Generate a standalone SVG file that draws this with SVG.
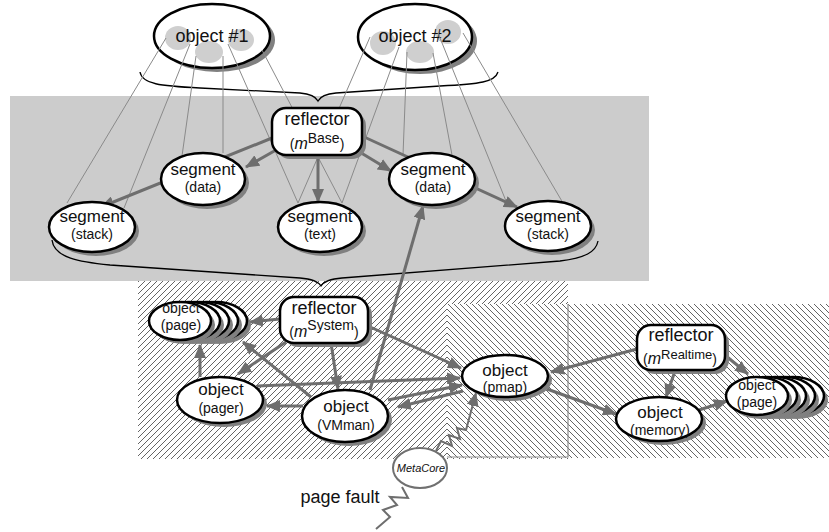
<svg xmlns="http://www.w3.org/2000/svg" width="829" height="532" viewBox="0 0 829 532">
<defs>
  <pattern id="hatch-fwd" width="6" height="6" patternUnits="userSpaceOnUse">
    <rect width="6" height="6" fill="#fff"/>
    <path d="M0,6 L6,0 M-1,1 L1,-1 M5,7 L7,5" stroke="#222" stroke-width="0.7"/>
  </pattern>
  <pattern id="hatch-back" width="6" height="6" patternUnits="userSpaceOnUse">
    <rect width="6" height="6" fill="#fff"/>
    <path d="M0,0 L6,6 M-1,5 L1,7 M5,-1 L7,1" stroke="#222" stroke-width="0.7"/>
  </pattern>
  <marker id="ah" markerWidth="14" markerHeight="12" refX="13" refY="6" orient="auto" markerUnits="userSpaceOnUse">
    <path d="M0,0 L14,6 L0,12 z" fill="#6e6e6e"/>
  </marker>
</defs>
<style>
  .node{fill:#fff;stroke:#000;stroke-width:2.5}
  .shadow{fill:#808080}
  .blob{fill:#cfcfcf}
  .t{font-family:"Liberation Sans",Arial,sans-serif;text-anchor:middle;fill:#111}
  .big{font-size:18px}
  .mid{font-size:17px}
  .sm{font-size:14px}
  .ln{stroke:#8a8a8a;stroke-width:1;fill:none}
  .arr{stroke:#6e6e6e;stroke-width:3;fill:none;marker-end:url(#ah)}
  .zig{stroke:#6e6e6e;stroke-width:2;fill:none}
  .brace{stroke:#000;stroke-width:1.3;fill:none}
</style>

<!-- layer backgrounds -->
<g id="areas">
  <rect x="10" y="96" width="639" height="185" fill="#cccccc"/>
  <rect x="138" y="281" width="430" height="178" fill="url(#hatch-fwd)"/>
  <rect x="447" y="304" width="382" height="154" fill="url(#hatch-back)"/>
  <path d="M568,304 L568,457 L447,457" stroke="#8a8a8a" stroke-width="1.2" fill="none"/>
</g>

<!-- braces -->
<g id="braces">
  <path class="brace" d="M140,72 C142,84 160,86 200,88 L300,93 C312,94 316,97 318,101 C320,97 324,94 336,93 L440,86 C480,84 495,82 498,72"/>
  <path class="brace" d="M52,240 C54,258 80,262 110,265 L300,278 C312,279 318,281 321,286 C324,281 330,279 342,278 L560,261 C585,258 596,252 598,241"/>
</g>

<!-- application objects -->
<g id="object1">
  <ellipse class="shadow" cx="217" cy="40" rx="58" ry="32"/>
  <ellipse class="node" cx="212" cy="36" rx="58" ry="32" stroke-width="3"/>
  <ellipse class="blob" cx="178" cy="38" rx="13" ry="12"/>
  <ellipse class="blob" cx="209" cy="52" rx="14" ry="11"/>
  <ellipse class="blob" cx="241" cy="40" rx="13" ry="11"/>
  <text class="t big" x="212" y="42">object #1</text>
</g>
<g id="object2">
  <ellipse class="shadow" cx="420" cy="41" rx="57" ry="33"/>
  <ellipse class="node" cx="415" cy="37" rx="57" ry="33" stroke-width="3"/>
  <ellipse class="blob" cx="383" cy="43" rx="13" ry="12"/>
  <ellipse class="blob" cx="420" cy="52" rx="14" ry="11"/>
  <ellipse class="blob" cx="448" cy="32" rx="13" ry="12"/>
  <text class="t big" x="415" y="42">object #2</text>
</g>

<g id="connectors">
  <!-- object-to-segment mappings -->
  <line class="ln" x1="166" y1="38" x2="67" y2="203"/>
  <line class="ln" x1="190" y1="44" x2="124" y2="208"/>
  <line class="ln" x1="196" y1="56" x2="182" y2="156"/>
  <line class="ln" x1="223" y1="56" x2="223" y2="153"/>
  <line class="ln" x1="228" y1="44" x2="298" y2="203"/>
  <line class="ln" x1="262" y1="50" x2="342" y2="203"/>
  <line class="ln" x1="370" y1="37" x2="298" y2="203"/>
  <line class="ln" x1="399" y1="47" x2="342" y2="203"/>
  <line class="ln" x1="407" y1="52" x2="403" y2="155"/>
  <line class="ln" x1="433" y1="53" x2="452" y2="155"/>
  <line class="ln" x1="438" y1="33" x2="508" y2="206"/>
  <line class="ln" x1="463" y1="33" x2="563" y2="203"/>

  <!-- mBase reflector -->
  <line class="arr" x1="272" y1="138" x2="101" y2="207"/>
  <line class="arr" x1="276" y1="150" x2="246" y2="167"/>
  <line class="arr" x1="318" y1="156" x2="318" y2="202"/>
  <line class="arr" x1="358" y1="151" x2="391" y2="171"/>
  <line class="arr" x1="362" y1="136" x2="517" y2="207"/>
  <line class="arr" x1="370" y1="390" x2="423" y2="206"/>

  <!-- mSystem reflector -->
  <line class="arr" x1="280" y1="319" x2="250" y2="322"/>
  <line class="arr" x1="286" y1="342" x2="238" y2="374"/>
  <line class="arr" x1="331" y1="343" x2="338" y2="389"/>
  <line class="arr" x1="368" y1="326" x2="461" y2="368"/>
  <line class="arr" x1="257" y1="386" x2="460" y2="378"/>
  <line class="arr" x1="388" y1="400" x2="462" y2="385"/>
  <line class="arr" x1="463" y1="391" x2="398" y2="407"/>
  <line class="arr" x1="303" y1="406" x2="267" y2="406"/>
  <line class="arr" x1="311" y1="397" x2="243" y2="342"/>
  <line class="arr" x1="200" y1="377" x2="200" y2="345"/>

  <!-- mRealtime reflector -->
  <line class="arr" x1="637" y1="349" x2="551" y2="372"/>
  <line class="arr" x1="675" y1="371" x2="666" y2="397"/>
  <line class="arr" x1="726" y1="356" x2="748" y2="374"/>
  <line class="arr" x1="699" y1="410" x2="727" y2="401"/>
  <line class="arr" x1="547" y1="389" x2="616" y2="414"/>

  <!-- MetaCore upcalls -->
  <path class="zig" d="M436,451 L441,441 L452,446 L449,435 L460,439 L457,428 L466,430 L476,393" marker-end="url(#ah)"/>
  <path class="zig" d="M376,529 L390,517 L383,510 L397,505 L390,497 L408,498 L402,487"/>
</g>

<!-- base-level segments -->
<g id="reflector-base">
  <rect class="shadow" x="276" y="112" width="90" height="47" rx="14"/>
  <rect class="node" x="272" y="108" width="90" height="47" rx="14"/>
  <text class="t big" x="317" y="125">reflector</text>
  <text class="t" x="317" y="149"><tspan font-size="14">(</tspan><tspan font-size="16" font-style="italic">m</tspan><tspan font-size="14" dy="-6">Base</tspan><tspan font-size="14" dy="6">)</tspan></text>
</g>
<g id="segment-data-1">
  <ellipse class="shadow" cx="207" cy="183" rx="42" ry="26"/>
  <ellipse class="node" cx="203" cy="179" rx="42" ry="26"/>
  <text class="t mid" x="203" y="175">segment</text>
  <text class="t sm" x="203" y="192">(data)</text>
</g>
<g id="segment-stack-1">
  <ellipse class="shadow" cx="96" cy="231" rx="43" ry="25"/>
  <ellipse class="node" cx="92" cy="227" rx="43" ry="25"/>
  <text class="t mid" x="92" y="222">segment</text>
  <text class="t sm" x="92" y="239">(stack)</text>
</g>
<g id="segment-text">
  <ellipse class="shadow" cx="324" cy="231" rx="42" ry="25"/>
  <ellipse class="node" cx="320" cy="227" rx="42" ry="25"/>
  <text class="t mid" x="320" y="222">segment</text>
  <text class="t sm" x="320" y="239">(text)</text>
</g>
<g id="segment-data-2">
  <ellipse class="shadow" cx="436" cy="183" rx="43" ry="26"/>
  <ellipse class="node" cx="432" cy="179" rx="43" ry="26"/>
  <text class="t mid" x="433" y="175">segment</text>
  <text class="t sm" x="433" y="192">(data)</text>
</g>
<g id="segment-stack-2">
  <ellipse class="shadow" cx="552" cy="230" rx="43" ry="25"/>
  <ellipse class="node" cx="548" cy="226" rx="43" ry="25"/>
  <text class="t mid" x="548" y="222">segment</text>
  <text class="t sm" x="548" y="239">(stack)</text>
</g>

<!-- system level -->
<g id="page-stack-1">
  <ellipse class="shadow" cx="220" cy="325" rx="31" ry="19"/>
  <ellipse class="node" cx="216" cy="321" rx="31" ry="19"/>
  <ellipse class="shadow" cx="211" cy="325" rx="31" ry="19"/>
  <ellipse class="node" cx="207" cy="321" rx="31" ry="19"/>
  <ellipse class="shadow" cx="202" cy="325" rx="31" ry="19"/>
  <ellipse class="node" cx="198" cy="321" rx="31" ry="19"/>
  <ellipse class="shadow" cx="193" cy="325" rx="31" ry="19"/>
  <ellipse class="node" cx="189" cy="321" rx="31" ry="19"/>
  <ellipse class="shadow" cx="184" cy="325" rx="31" ry="19"/>
  <ellipse class="node" cx="180" cy="321" rx="31" ry="19"/>
  <text class="t sm" x="181" y="313">object</text>
  <text class="t sm" x="181" y="330">(page)</text>
</g>
<g id="reflector-system">
  <rect class="shadow" x="284" y="301" width="88" height="46" rx="14"/>
  <rect class="node" x="280" y="297" width="88" height="46" rx="14"/>
  <text class="t big" x="324" y="314">reflector</text>
  <text class="t" x="324" y="337"><tspan font-size="14">(</tspan><tspan font-size="16" font-style="italic">m</tspan><tspan font-size="14" dy="-7">System</tspan><tspan font-size="14" dy="7">)</tspan></text>
</g>
<g id="pager">
  <ellipse class="shadow" cx="224" cy="404" rx="43" ry="23"/>
  <ellipse class="node" cx="220" cy="400" rx="43" ry="23"/>
  <text class="t mid" x="221" y="395">object</text>
  <text class="t sm" x="221" y="413">(pager)</text>
</g>
<g id="vmman">
  <ellipse class="shadow" cx="349" cy="420" rx="43" ry="26"/>
  <ellipse class="node" cx="345" cy="416" rx="43" ry="26"/>
  <text class="t mid" x="346" y="412">object</text>
  <text class="t sm" x="346" y="430">(VMman)</text>
</g>
<g id="pmap">
  <ellipse class="shadow" cx="509" cy="380" rx="43" ry="21"/>
  <ellipse class="node" cx="505" cy="376" rx="43" ry="21"/>
  <text class="t mid" x="505" y="376">object</text>
  <text class="t sm" x="505" y="392">(pmap)</text>
</g>
<g id="reflector-realtime">
  <rect class="shadow" x="641" y="329" width="88" height="45" rx="14"/>
  <rect class="node" x="637" y="325" width="88" height="45" rx="14"/>
  <text class="t big" x="681" y="341">reflector</text>
  <text class="t" x="680" y="364"><tspan font-size="14">(</tspan><tspan font-size="16" font-style="italic">m</tspan><tspan font-size="13" dy="-5">Realtime</tspan><tspan font-size="14" dy="5">)</tspan></text>
</g>
<g id="memory">
  <ellipse class="shadow" cx="663" cy="423" rx="43" ry="22"/>
  <ellipse class="node" cx="659" cy="419" rx="43" ry="22"/>
  <text class="t mid" x="660" y="418">object</text>
  <text class="t sm" x="660" y="435">(memory)</text>
</g>
<g id="page-stack-2">
  <ellipse class="shadow" cx="797" cy="400" rx="31" ry="19"/>
  <ellipse class="node" cx="793" cy="396" rx="31" ry="19"/>
  <ellipse class="shadow" cx="788" cy="400" rx="31" ry="19"/>
  <ellipse class="node" cx="784" cy="396" rx="31" ry="19"/>
  <ellipse class="shadow" cx="779" cy="400" rx="31" ry="19"/>
  <ellipse class="node" cx="775" cy="396" rx="31" ry="19"/>
  <ellipse class="shadow" cx="770" cy="400" rx="31" ry="19"/>
  <ellipse class="node" cx="766" cy="396" rx="31" ry="19"/>
  <ellipse class="shadow" cx="761" cy="400" rx="31" ry="19"/>
  <ellipse class="node" cx="757" cy="396" rx="31" ry="19"/>
  <text class="t sm" x="757" y="390">object</text>
  <text class="t sm" x="757" y="407">(page)</text>
</g>

<!-- metacore and the fault entry -->
<g id="metacore">
  <ellipse cx="420" cy="468" rx="27" ry="20" fill="#fff" stroke="#707070" stroke-width="2"/>
  <text class="t" x="421" y="472" font-size="11" font-style="italic">MetaCore</text>
</g>
<g id="page-fault">
  <text class="t" x="340" y="503" font-size="18">page fault</text>
</g>
</svg>
